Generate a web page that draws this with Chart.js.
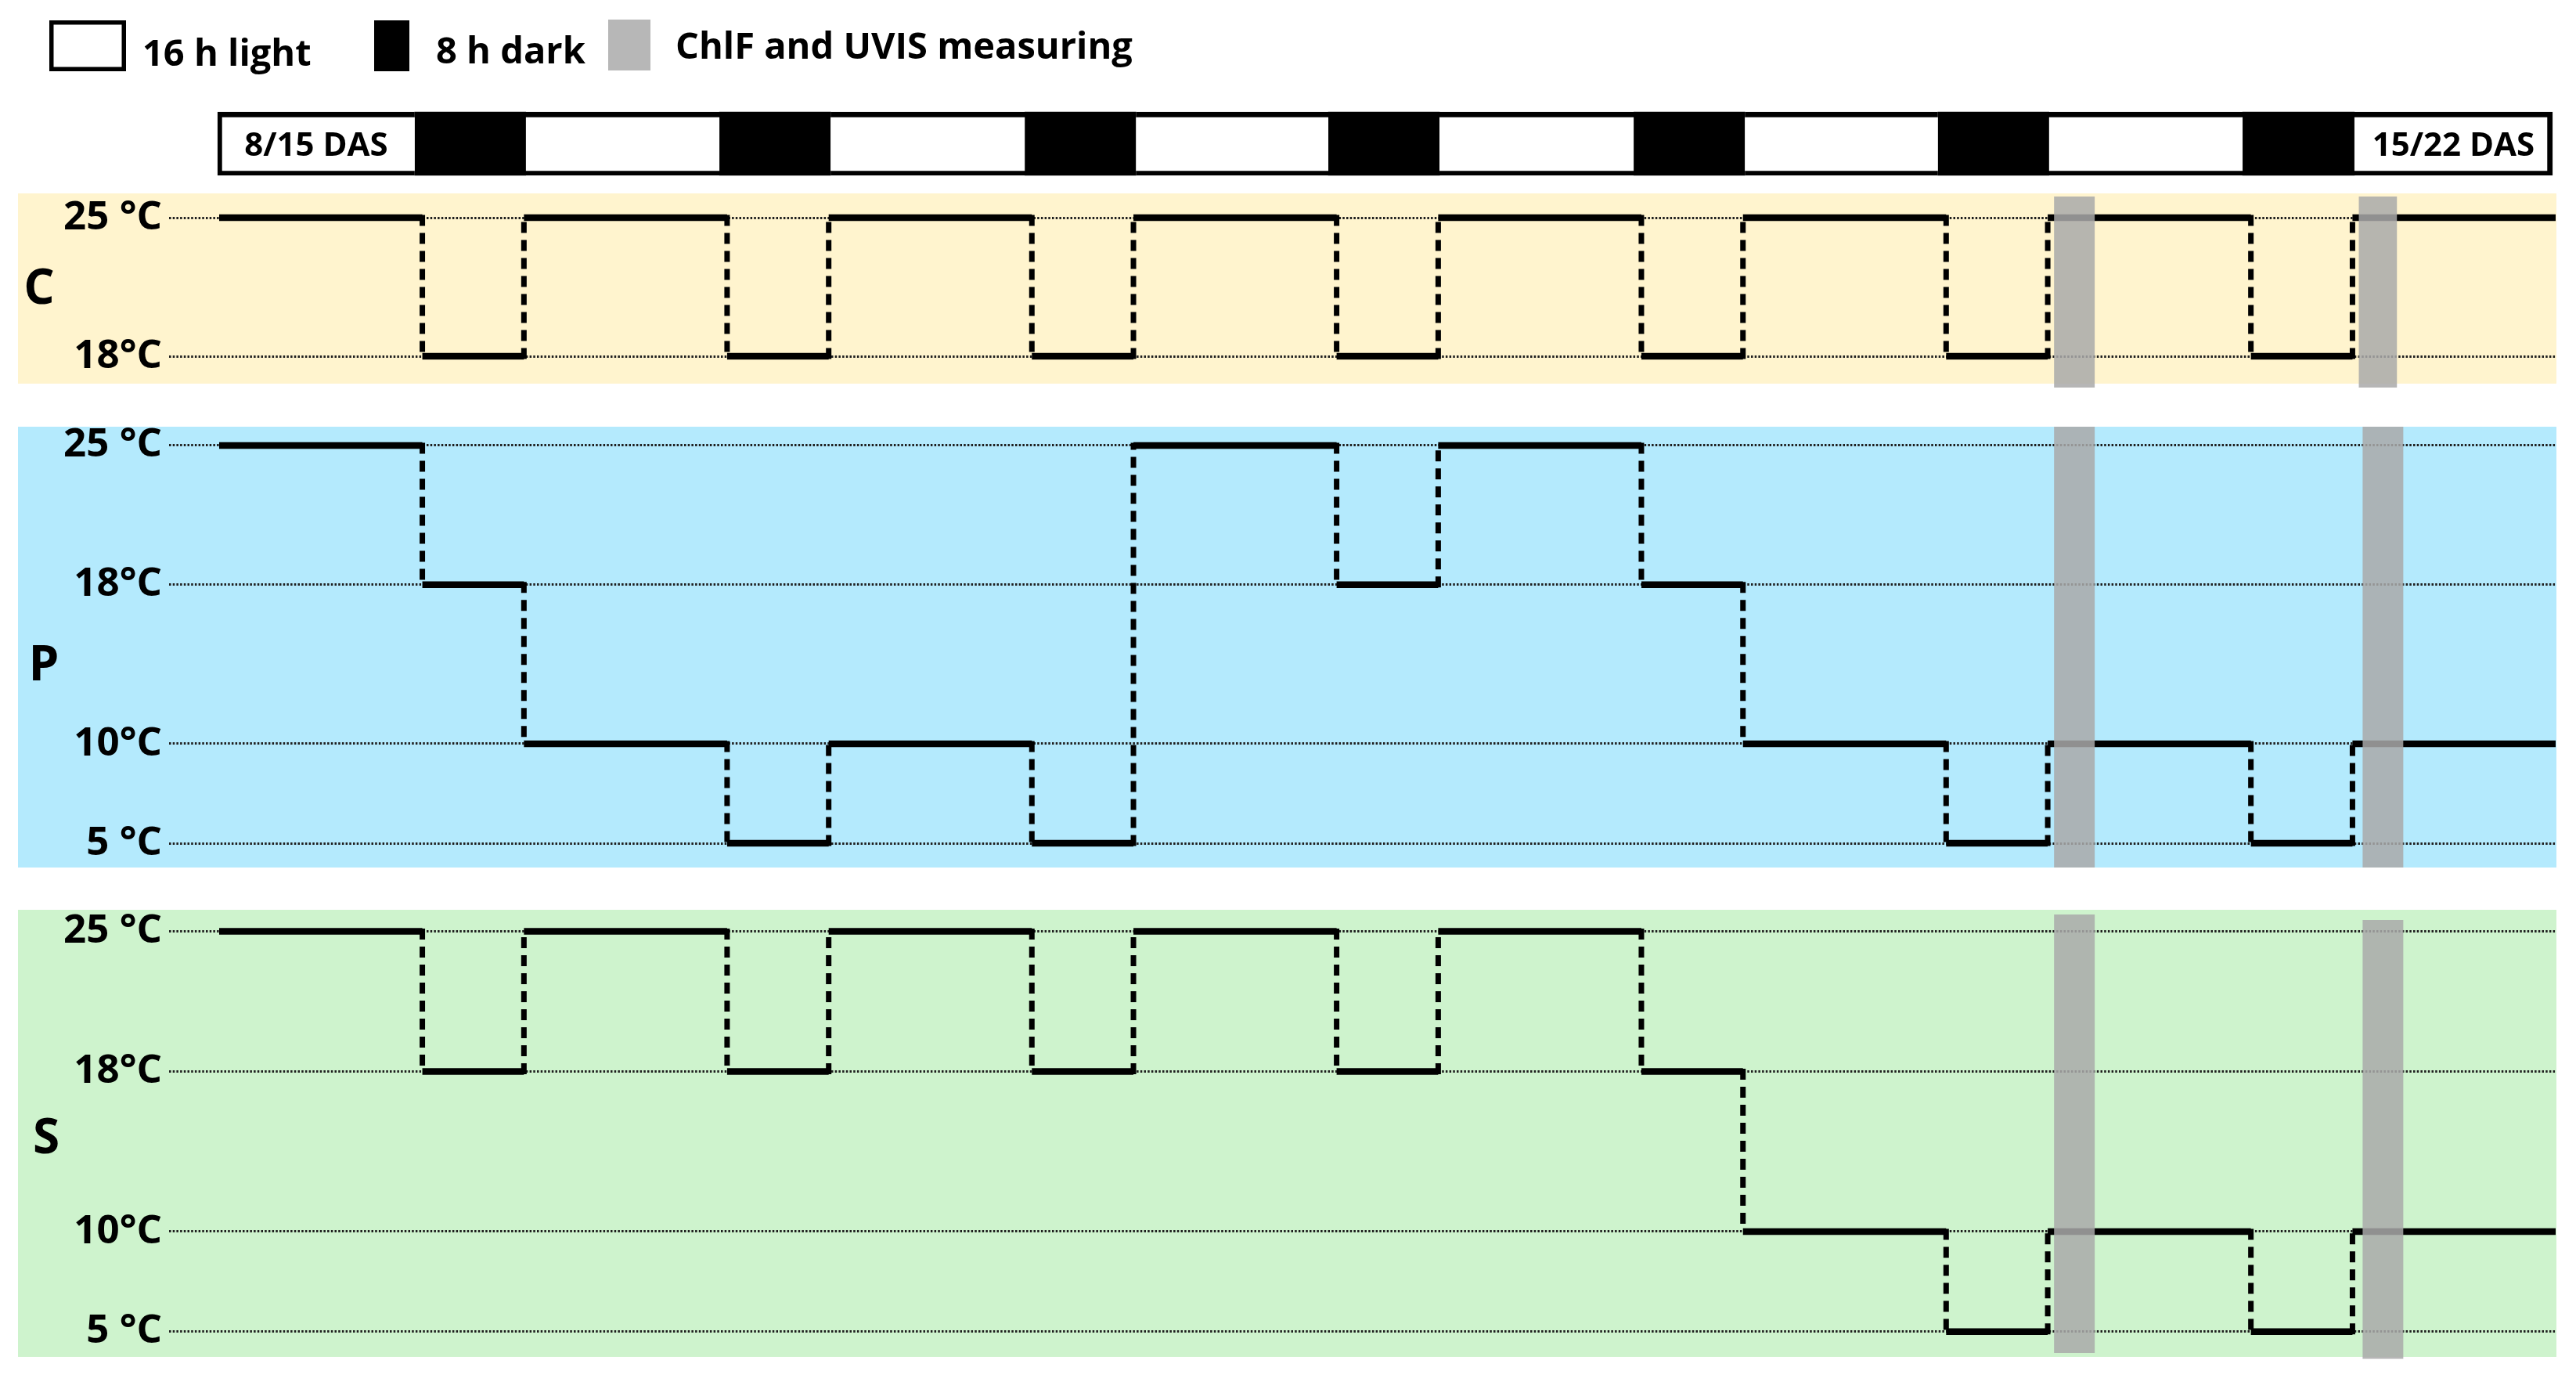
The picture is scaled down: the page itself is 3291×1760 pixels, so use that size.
<!DOCTYPE html>
<html>
<head>
<meta charset="utf-8">
<script src="https://cdn.jsdelivr.net/npm/chart.js@4.4.1/dist/chart.umd.min.js"></script>
<style>
  html, body { margin: 0; padding: 0; background: #ffffff; }
  #wrap { position: relative; width: 3291px; height: 1760px; background: #ffffff; overflow: hidden; }
  #wrap canvas { position: absolute; left: 0; }
</style>
</head>
<body>
<div id="wrap">
  <canvas id="tl" width="3291" height="245" style="top:0px"></canvas>
  <canvas id="pc" width="3291" height="267" style="top:235px"></canvas>
  <canvas id="pp" width="3291" height="587" style="top:533px"></canvas>
  <canvas id="ps" width="3291" height="595" style="top:1150px"></canvas>
</div>
<script>
// ---------------- DATA ----------------
// start of each temperature phase (hours after 8/15 DAS)
const phaseStart = [0, 16, 24, 40, 48, 64, 72, 88, 96, 112, 120, 136, 144, 160, 168];
const phaseEnd = 184;
// temperature (°C) in each phase, per treatment
const tempC = [25, 18, 25, 18, 25, 18, 25, 18, 25, 18, 25, 18, 25, 18, 25];
const tempP = [25, 18, 10, 5, 10, 5, 25, 18, 25, 18, 10, 5, 10, 5, 10];
const tempS = [25, 18, 25, 18, 25, 18, 25, 18, 25, 18, 10, 5, 10, 5, 10];
// treatment names
const treatments = ['C', 'P', 'S'];
// y tick values and labels
const ticksC = [25, 18];
const ticksPS = [25, 18, 10, 5];
const tickLabels = { 25: '25 °C', 18: '18°C', 10: '10°C', 5: '5 °C' };
// photoperiod bar edges as drawn (hours): light, dark, light, dark, ... light
const timelineEdges = [-0.12, 15.4, 24.15, 39.4, 48.15, 63.45, 72.2, 87.35, 96.1,
                       111.4, 120.15, 135.35, 144.1, 159.35, 168.15, 183.75];
const dasLabels = ['8/15 DAS', '15/22 DAS'];
const legendLabels = ['16 h light', '8 h dark', 'ChlF and UVIS measuring'];
// ChlF and UVIS measuring windows (hours)
const measureC = [[144.5, 147.7], [168.5, 171.5]];
const measureP = [[144.5, 147.7], [168.8, 172.0]];
const measureS = [[144.5, 147.7], [168.8, 172.0]];

// ---------------- STYLE / LAYOUT ----------------
const FONT = '"Open Sans", "Noto Sans", sans-serif';
Chart.defaults.font.family = FONT;
const X_MIN = -3.945, X_MAX = 184;
const AXIS_W = 216, PAD_RIGHT = 26;
const BAND_COLOR = 'rgba(169,169,169,0.85)';

// ---------------- TIMELINE + LEGEND ----------------
const lightBars = [], darkBars = [];
for (let i = 0; i < timelineEdges.length - 1; i++) {
  const seg = { x: [timelineEdges[i], timelineEdges[i + 1]], y: 'DAS' };
  if (i % 2 === 0) lightBars.push(seg); else darkBars.push(seg);
}

const timelinePlugin = {
  id: 'timelineDeco',
  afterDatasetsDraw(chart) {
    const ctx = chart.ctx;
    const meta = chart.getDatasetMeta(1);
    const els = [meta.data[0], meta.data[meta.data.length - 1]];
    ctx.save();
    ctx.fillStyle = '#000';
    ctx.font = '700 42px ' + FONT;
    ctx.textAlign = 'center';
    ctx.textBaseline = 'alphabetic';
    els.forEach((el, k) => {
      const cx = (el.x + el.base) / 2;
      ctx.fillText(dasLabels[k], cx, el.y + 15);
    });
    ctx.restore();
  },
  afterDraw(chart) {
    const ctx = chart.ctx;
    ctx.save();
    // legend symbols
    ctx.fillStyle = '#000';
    ctx.fillRect(63, 26, 98, 65);
    ctx.fillStyle = '#fff';
    ctx.fillRect(68.5, 31.5, 87, 54);
    ctx.fillStyle = '#000';
    ctx.fillRect(478, 26, 45, 65);
    ctx.fillStyle = '#b7b7b7';
    ctx.fillRect(777, 25, 54, 65);
    // legend texts
    ctx.fillStyle = '#000';
    ctx.font = '700 47px ' + FONT;
    ctx.textAlign = 'left';
    ctx.textBaseline = 'alphabetic';
    ctx.fillText(legendLabels[0], 182, 84);
    ctx.fillText(legendLabels[1], 557, 81);
    ctx.fillText(legendLabels[2], 863, 75);
    ctx.restore();
  }
};

new Chart(document.getElementById('tl'), {
  type: 'bar',
  data: {
    datasets: [
      { label: legendLabels[1], data: darkBars, backgroundColor: '#000', borderWidth: 0,
        barThickness: 81, grouped: false, order: 2 },
      { label: legendLabels[0], data: lightBars, backgroundColor: '#fff', borderColor: '#000',
        borderSkipped: false, barThickness: 81, grouped: false, order: 1,
        borderWidth: (c) => ({ top: 7, bottom: 6,
                               left: c.dataIndex === 0 ? 6 : 0,
                               right: c.dataIndex === lightBars.length - 1 ? 7 : 0 }) }
    ]
  },
  options: {
    indexAxis: 'y',
    responsive: false,
    animation: false,
    devicePixelRatio: 1,
    layout: { autoPadding: false, padding: { left: AXIS_W, right: PAD_RIGHT, top: 130, bottom: 8 } },
    scales: {
      x: { type: 'linear', min: X_MIN, max: X_MAX, display: false },
      y: { type: 'category', labels: ['DAS'], display: false }
    },
    plugins: { legend: { display: false }, tooltip: { enabled: false } }
  },
  plugins: [timelinePlugin]
});

// ---------------- TEMPERATURE PANELS ----------------
function buildSteps(temps) {
  const pts = [];
  for (let i = 0; i < phaseStart.length; i++) {
    const end = i < phaseStart.length - 1 ? phaseStart[i + 1] : phaseEnd;
    pts.push({ x: phaseStart[i], y: temps[i] });
    pts.push({ x: end, y: temps[i] });
  }
  return pts;
}

function makePanel(id, name, temps, tickVals, yMin, yMax, bg, letterX, letterDY, bands, bandPad) {
  const deco = {
    id: 'panelDeco_' + id,
    beforeDraw(chart) {
      const { ctx, chartArea } = chart;
      ctx.save();
      ctx.fillStyle = bg;
      ctx.fillRect(23, chartArea.top, 3266 - 23, chartArea.bottom - chartArea.top);
      ctx.restore();
    },
    afterDatasetsDraw(chart) {
      const { ctx, chartArea, scales } = chart;
      ctx.save();
      ctx.fillStyle = BAND_COLOR;
      bands.forEach((b, k) => {
        const x0 = scales.x.getPixelForValue(b[0]);
        const x1 = scales.x.getPixelForValue(b[1]);
        const y0 = chartArea.top + bandPad[k][0];
        const y1 = chartArea.bottom + bandPad[k][1];
        ctx.fillRect(x0, y0, x1 - x0, y1 - y0);
      });
      ctx.fillStyle = '#000';
      ctx.font = '700 62px ' + FONT;
      ctx.textAlign = 'center';
      ctx.textBaseline = 'middle';
      ctx.fillText(name, letterX, chartArea.top + letterDY);
      ctx.restore();
    }
  };
  const isVert = (c) => c.p0.parsed.x === c.p1.parsed.x;
  return new Chart(document.getElementById(id), {
    type: 'line',
    data: {
      datasets: [{
        label: name,
        data: buildSteps(temps),
        borderColor: '#000',
        borderWidth: 8.5,
        borderDash: [7, 16],
        borderCapStyle: 'butt',
        pointRadius: 0,
        fill: false,
        tension: 0,
        segment: {
          borderDash: (c) => isVert(c) ? [7, 16] : [],
          borderWidth: (c) => isVert(c) ? 7 : 8.5,
          borderCapStyle: (c) => isVert(c) ? 'square' : 'butt'
        }
      }]
    },
    options: {
      responsive: false,
      animation: false,
      devicePixelRatio: 1,
      layout: { autoPadding: false, padding: { left: 0, right: PAD_RIGHT, top: 12, bottom: 12 } },
      scales: {
        x: { type: 'linear', min: X_MIN, max: X_MAX, display: false },
        y: {
          type: 'linear', min: yMin, max: yMax,
          afterFit(scale) {
            scale.width = AXIS_W;
            scale.paddingTop = 0; scale.paddingBottom = 0;
            scale.paddingLeft = 0; scale.paddingRight = 0;
          },
          afterBuildTicks(axis) { axis.ticks = tickVals.map(v => ({ value: v })); },
          grid: { color: '#1e1e1e', lineWidth: 3, drawTicks: false },
          border: { display: false, dash: [2.5, 2.2] },
          ticks: {
            autoSkip: false,
            padding: 9,
            color: '#000',
            font: { size: 51, weight: '700', family: FONT },
            callback: (v) => tickLabels[v]
          }
        }
      },
      plugins: { legend: { display: false }, tooltip: { enabled: false } }
    },
    plugins: [deco]
  });
}

makePanel('pc', treatments[0], tempC, ticksC, 16.62, 26.23, '#FFF4CE', 50, 123,
          measureC, [[4, 5], [4, 5]]);
makePanel('pp', treatments[1], tempP, ticksPS, 3.78, 25.94, '#B4EAFD', 56, 306,
          measureP, [[0, 0], [0, 0]]);
makePanel('ps', treatments[2], tempS, ticksPS, 3.74, 26.08, '#CEF3CD', 59, 293,
          measureS, [[6, -5], [13, 2.5]]);
</script>
</body>
</html>
